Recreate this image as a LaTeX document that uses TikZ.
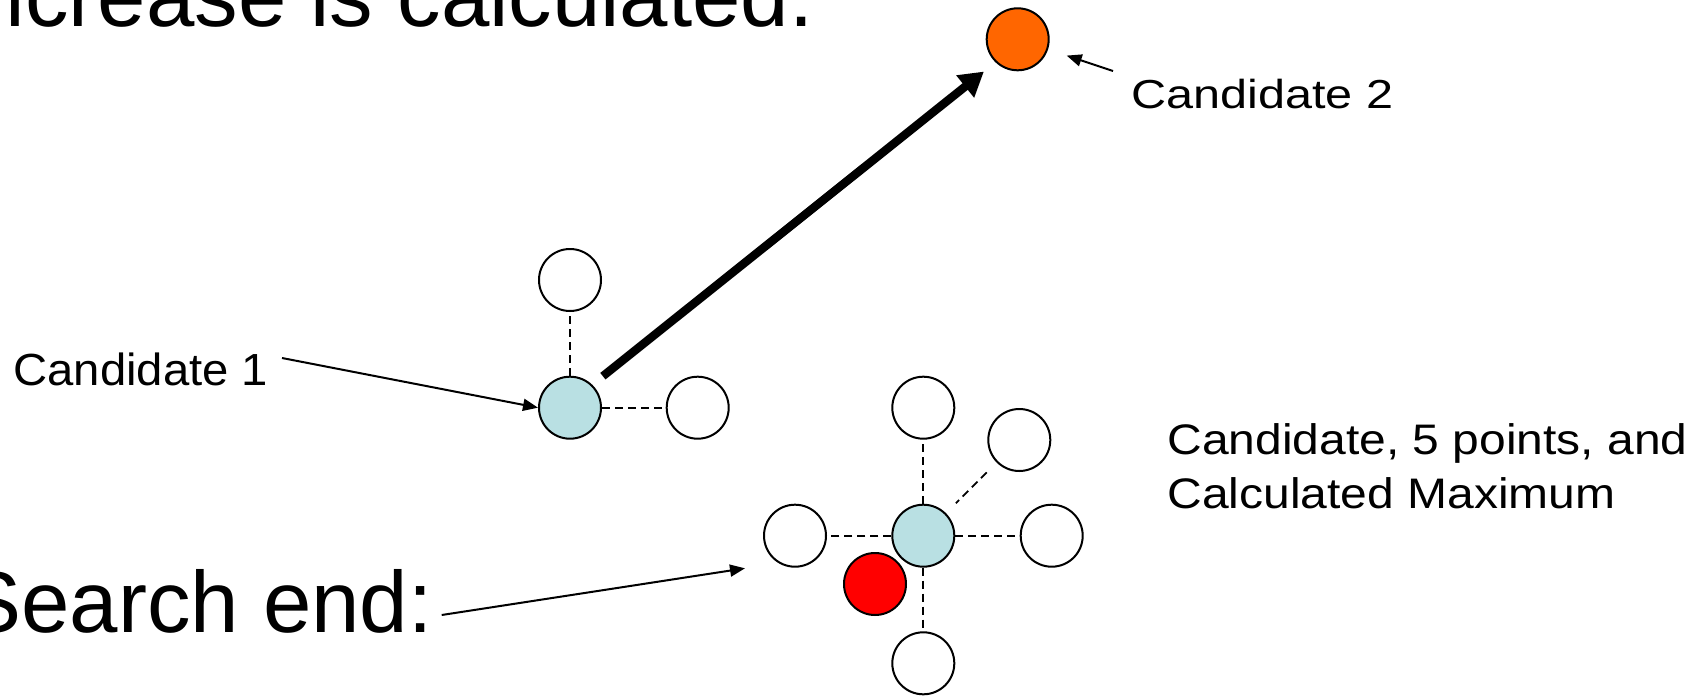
\documentclass[tikz,border=0pt]{standalone}
\usepackage{fontspec}
\usepackage{graphicx}
\setmainfont{Liberation Sans}
\usetikzlibrary{arrows.meta}
\definecolor{candblue}{RGB}{185,224,227}
\definecolor{orangec}{RGB}{255,102,0}
\begin{document}
\begin{tikzpicture}[x=0.5pt,y=-0.5pt,
  pt/.style={circle,draw=black,line width=1pt,minimum size=31pt,inner sep=0pt,fill=white},
  cand/.style={pt,fill=candblue},
  link/.style={line width=0.9pt,dash pattern=on 4pt off 2.5pt},
  thinarrow/.style={line width=1pt,-{Triangle[length=7.5pt,width=6pt]}},
  bigarrow/.style={line width=4.2pt,-{Triangle[length=12pt,width=13.5pt]}},
  lbl/.style={inner sep=0pt,text=black}]
\useasboundingbox (0,0) rectangle (1693,696);

% circles
\node[cand] (c1) at (570,407.7) {};
\node[pt] (c1t) at (570,280) {};
\node[pt] (c1r) at (697.7,407.7) {};
\node[pt,fill=orangec] (c2) at (1017.7,39.3) {};
\node[cand] (m) at (923.3,535.7) {};
\node[pt] (mt) at (923.3,407.7) {};
\node[pt] (mur) at (1019.3,440) {};
\node[pt] (ml) at (795,535.7) {};
\node[pt] (mr) at (1051.7,535.7) {};
\node[pt] (mb) at (923.3,663.3) {};
\node[pt,fill=red] (best) at (875,584) {};

% dashed links
\draw[link] (c1) -- (c1t);
\draw[link] (c1) -- (c1r);
\draw[link] (m) -- (mt);
\draw[link] (m) -- (ml);
\draw[link] (m) -- (mr);
\draw[link] (m) -- (mb);
\draw[link,shorten <=7pt,shorten >=7pt] (mur) -- (m);

% big arrow
\draw[bigarrow,shorten <=6.8pt,shorten >=7.4pt] (c1.46) -- (c2.226);

% texts
\node[lbl,anchor=base east,font=\fontsize{43.5pt}{52pt}\selectfont] (title) at (814,26) {ncrease is calculated.};
\node[lbl,anchor=base east,font=\fontsize{43.5pt}{52pt}\selectfont] (se) at (433,632) {Search end:};
\node[lbl,anchor=base west,font=\fontsize{22.5pt}{27pt}\selectfont] (l1) at (13,385) {\scalebox{1.05}[1]{Candidate 1}};
\node[lbl,anchor=base west,font=\fontsize{20.25pt}{24pt}\selectfont] (l2) at (1131,108.3) {\scalebox{1.2}[1]{Candidate 2}};
\node[lbl,anchor=base west,font=\fontsize{21.35pt}{26pt}\selectfont] (r1) at (1167,454) {\scalebox{1.124}[1]{Candidate, 5 points, and}};
\node[lbl,anchor=base west,font=\fontsize{21.35pt}{26pt}\selectfont] (r2) at (1167,508.6) {\scalebox{1.124}[1]{Calculated Maximum}};

% thin arrows
\coordinate (p1) at (282,358);
\draw[thinarrow] (p1) -- (c1.west);
\coordinate (p2) at (1113,71);
\draw[thinarrow,shorten >=9.8pt] (p2) -- (c2);
\coordinate (p3) at (441.7,615);
\coordinate (p3e) at (745,568.3);
\draw[thinarrow] (p3) -- (p3e);
\end{tikzpicture}
\end{document}
